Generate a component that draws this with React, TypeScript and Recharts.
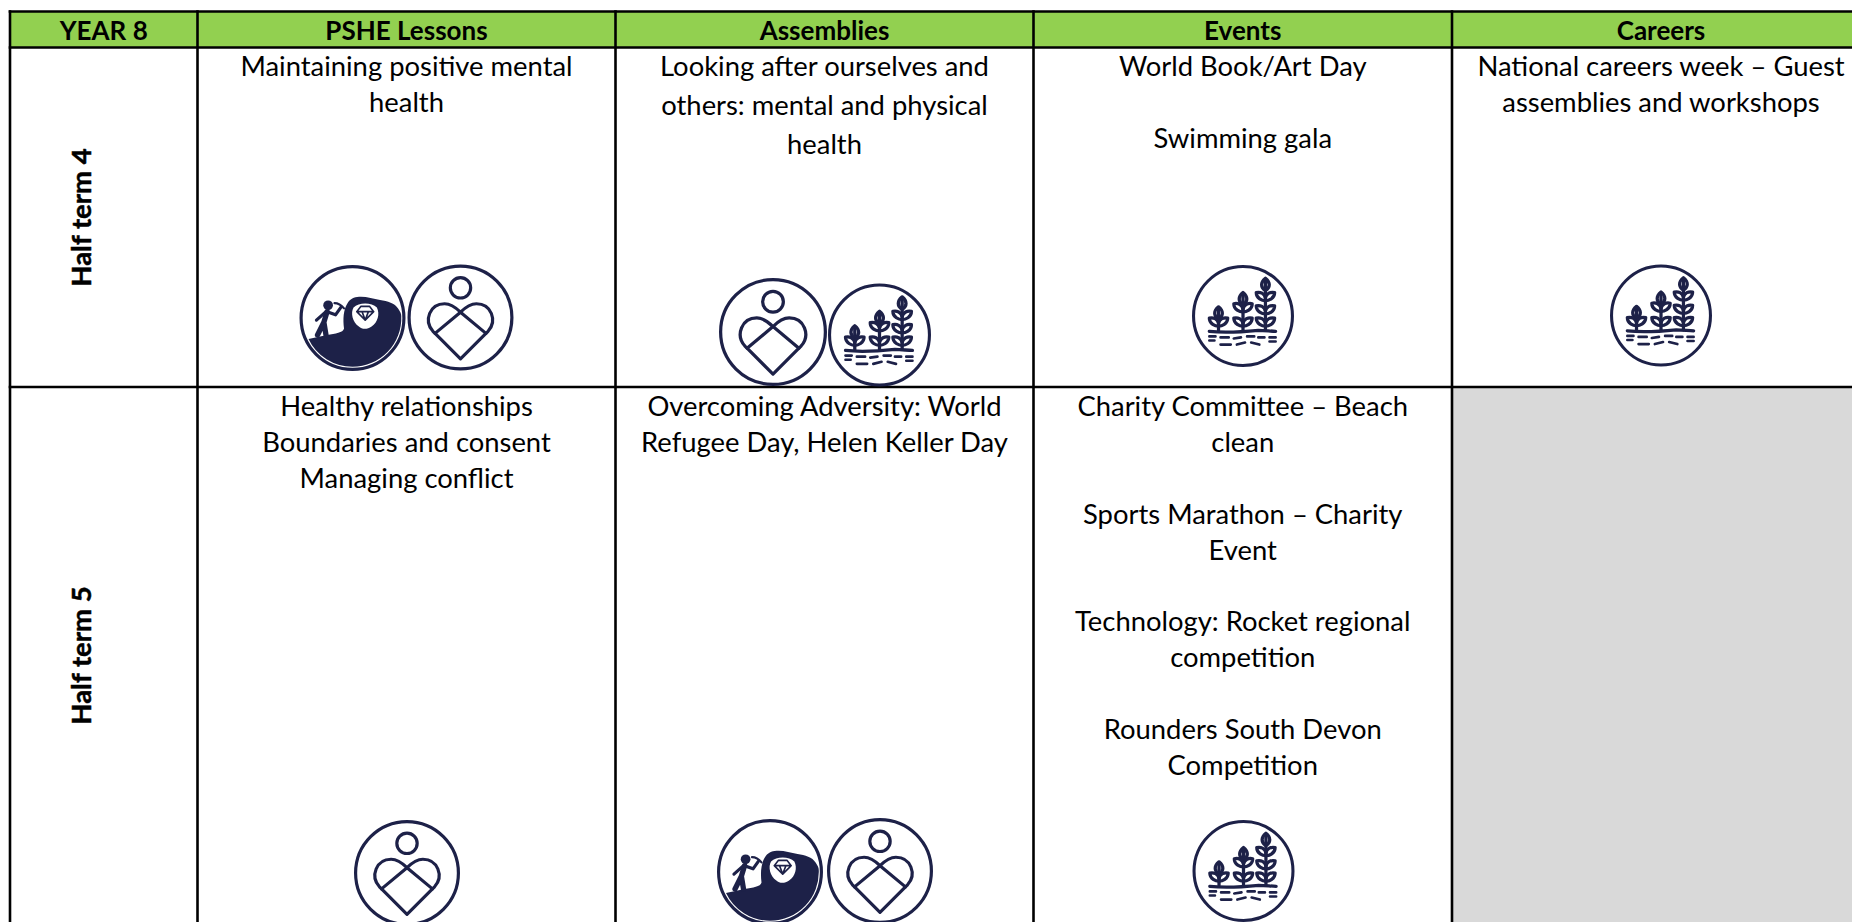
import React from "react";
import { ComposedChart, Scatter, XAxis, YAxis, ReferenceArea, ReferenceLine } from "recharts";

const WIDTH = 1852;
const HEIGHT = 922;
const columnEdges = [10, 197.5, 615.5, 1033.5, 1452, 1870];
const rowEdges = [11.5, 47.5, 387, 960];
const columns = ["YEAR 8", "PSHE Lessons", "Assemblies", "Events", "Careers"];
const rows = ["Half term 4", "Half term 5"];

const cellTexts = [
  { col: 1, row: 0, gap: 36, lines: ["Maintaining positive mental", "health"] },
  { col: 2, row: 0, gap: 39, lines: ["Looking after ourselves and", "others: mental and physical", "health"] },
  { col: 3, row: 0, gap: 36, lines: ["World Book/Art Day", "", "Swimming gala"] },
  { col: 4, row: 0, gap: 36, lines: ["National careers week – Guest", "assemblies and workshops"] },
  { col: 1, row: 1, gap: 36, lines: ["Healthy relationships", "Boundaries and consent", "Managing conflict"] },
  { col: 2, row: 1, gap: 36, lines: ["Overcoming Adversity: World", "Refugee Day, Helen Keller Day"] },
  {
    col: 3,
    row: 1,
    gap: 35.9,
    lines: [
      "Charity Committee – Beach",
      "clean",
      "",
      "Sports Marathon – Charity",
      "Event",
      "",
      "Technology: Rocket regional",
      "competition",
      "",
      "Rounders South Devon",
      "Competition",
    ],
  },
];

const cellIcons = [
  { kind: "mine", x: 352.5, y: 318, r: 53 },
  { kind: "heart", x: 460.5, y: 317.5, r: 53 },
  { kind: "heart", x: 773, y: 332, r: 54 },
  { kind: "wheat", x: 879.5, y: 335, r: 51.5 },
  { kind: "wheat", x: 1243, y: 316, r: 51 },
  { kind: "wheat", x: 1661, y: 315.5, r: 51 },
  { kind: "heart", x: 407, y: 873, r: 53 },
  { kind: "mine", x: 770, y: 872, r: 53 },
  { kind: "heart", x: 880, y: 871, r: 53 },
  { kind: "wheat", x: 1243.5, y: 871, r: 51 },
];

const mid = (a: number[], i: number) => (a[i] + a[i + 1]) / 2;
const FONT = "Lato, 'Open Sans', sans-serif";
const NAVY = "#1d2148";

const headerPoints = columns.map((label, i) => ({ x: mid(columnEdges, i), y: 29.5, label }));
const rowPoints = rows.map((label, i) => ({ x: 80, y: i === 0 ? 217.5 : 655.5, label }));
const textPoints = cellTexts.flatMap((c) =>
  c.lines.map((label, i) => ({
    x: mid(columnEdges, c.col),
    y: (c.row === 0 ? 65 : 405.5) + i * c.gap,
    label,
  }))
);

const HeaderShape = (p: any) => (
  <text x={p.cx} y={p.cy} textAnchor="middle" dominantBaseline="central" fontFamily={FONT} fontWeight={700} fontSize={26} fill="#000">
    {p.payload.label}
  </text>
);
const RowShape = (p: any) => (
  <text
    transform={`translate(${p.cx},${p.cy}) rotate(-90)`}
    textAnchor="middle"
    dominantBaseline="central"
    fontFamily={FONT}
    fontWeight={700}
    fontSize={27.5}
    fill="#000"
    stroke="#000"
    strokeWidth={0.5}
  >
    {p.payload.label}
  </text>
);
const TextShape = (p: any) => (
  <text x={p.cx} y={p.cy} textAnchor="middle" dominantBaseline="central" fontFamily={FONT} fontSize={27.4} fill="#000">
    {p.payload.label}
  </text>
);

const Leaves = ({ x, y }: { x: number; y: number }) => (
  <g>
    <path d={`M${x},${y + 5} C${x - 3},${y + 5} ${x - 9},${y + 3} ${x - 9},${y - 3} C${x - 5},${y - 4} ${x - 1},${y - 2} ${x},${y + 2}`} />
    <path d={`M${x},${y + 5} C${x + 3},${y + 5} ${x + 9},${y + 3} ${x + 9},${y - 3} C${x + 5},${y - 4} ${x + 1},${y - 2} ${x},${y + 2}`} />
  </g>
);
const Bud = ({ x, y }: { x: number; y: number }) => (
  <path d={`M${x},${y} C${x + 5},${y + 4} ${x + 5},${y + 9} ${x},${y + 12} C${x - 5},${y + 9} ${x - 5},${y + 4} ${x},${y} Z`} />
);

const IconShape = (p: any) => {
  const { kind, r } = p.payload;
  const s = r / 50;
  return (
    <g transform={`translate(${p.cx},${p.cy}) scale(${s})`} fill="none" stroke={NAVY} strokeWidth={3} strokeLinejoin="round" strokeLinecap="round">
      <circle r={48.5} fill="#fff" />
      {kind === "heart" && (
        <g>
          <circle cx={0} cy={-28} r={9.6} />
          <path d="M0,-5 L24,15 L0,39 L-24,15 Z" />
          <path d="M-24,15 L-26,13 C-35,3 -29,-13 -15,-13 C-9,-13 -4,-9 0,-5 C4,-9 9,-13 15,-13 C29,-13 35,3 26,13 L24,15" />
        </g>
      )}
      {kind === "mine" && (
        <g>
          <path
            d="M-41.5,19.8 L-24,16 C-16,15 -9,14 -8,10 C-9,2 -9,-8 -4,-15 C-1,-19 3,-20 8,-20 C14,-20 20,-18 26,-17 C33,-16 40,-14 43,-9 C45,-6 46,-4 46,-2 A46,46 0 0 1 0,46 A46,46 0 0 1 -41.5,19.8 Z"
            fill={NAVY}
            stroke="none"
          />
          <path d="M1,-10 C6,-15 18,-15 23,-10 C26,-4 24,4 18,8 C14,11 9,11 6,8 C0,4 -2,-5 1,-10 Z" fill="#fff" stroke="none" />
          <path d="M4,-6 L8,-11 L16,-11 L20,-6 L12,2 Z M4,-6 H20 M9,-6 L12,2 L15,-6" strokeWidth={1.5} />
          <circle cx={-23} cy={-12} r={4.6} fill={NAVY} stroke="none" />
          <path d="M-24,-6 L-27,4 L-33,16 M-27,4 L-25,16" strokeWidth={5} />
          <path d="M-25,-6 L-34,2 M-24,-6 L-16,-3 L-11,-10" strokeWidth={3} />
          <path d="M-17,-14 Q-12,-14 -8,-9" strokeWidth={2} />
        </g>
      )}
      {kind === "wheat" && (
        <g strokeWidth={3.2}>
          <path d="M-24,14 V-6 M0,14 V-20 M22,14 V-34" />
          <Bud x={-24} y={-9} />
          <Bud x={0} y={-23} />
          <Bud x={22} y={-37} />
          <Leaves x={-24} y={5} />
          <Leaves x={0} y={5} />
          <Leaves x={0} y={-9} />
          <Leaves x={22} y={5} />
          <Leaves x={22} y={-7} />
          <Leaves x={22} y={-20} />
          <path d="M-33,15 C-15,17 5,15 15,14 C22,14 27,15 32,15" />
          <path d="M-33,20 H-27 M-22,21 H-14 M-9,22 L-2,21 M4,20 H11 M15,21 L21,21 M26,21 H32 M-33,24 H-28 M26,25 H32" strokeWidth={2.6} />
          <path d="M-22,28 H-12 M-6,28 L2,26 M8,26 L16,28" strokeWidth={2.6} />
        </g>
      )}
    </g>
  );
};

export default function App() {
  return (
    <div style={{ position: "absolute", left: 0, top: 0, width: WIDTH, height: HEIGHT, overflow: "hidden", background: "#fff" }}>
      <ComposedChart width={WIDTH} height={HEIGHT} margin={{ top: 0, right: 0, bottom: 0, left: 0 }}>
        <XAxis type="number" dataKey="x" domain={[0, WIDTH]} hide allowDataOverflow />
        <YAxis type="number" dataKey="y" domain={[0, HEIGHT]} reversed hide allowDataOverflow />
        <ReferenceArea x1={columnEdges[0]} x2={WIDTH} y1={rowEdges[0]} y2={rowEdges[1]} fill="#92d050" fillOpacity={1} stroke="none" />
        <ReferenceArea x1={columnEdges[4]} x2={WIDTH} y1={rowEdges[2]} y2={HEIGHT} fill="#d9d9d9" fillOpacity={1} stroke="none" />
        {columnEdges.slice(0, 5).map((x) => (
          <ReferenceLine key={`c${x}`} segment={[{ x, y: rowEdges[0] - 1.3 }, { x, y: HEIGHT }]} stroke="#000" strokeWidth={2.6} />
        ))}
        {rowEdges.slice(0, 3).map((y) => (
          <ReferenceLine key={`r${y}`} segment={[{ x: columnEdges[0] - 1.3, y }, { x: WIDTH, y }]} stroke="#000" strokeWidth={2.6} />
        ))}
        <Scatter data={cellIcons} dataKey="y" shape={IconShape} isAnimationActive={false} />
        <Scatter data={headerPoints} dataKey="y" shape={HeaderShape} isAnimationActive={false} />
        <Scatter data={rowPoints} dataKey="y" shape={RowShape} isAnimationActive={false} />
        <Scatter data={textPoints} dataKey="y" shape={TextShape} isAnimationActive={false} />
      </ComposedChart>
    </div>
  );
}
